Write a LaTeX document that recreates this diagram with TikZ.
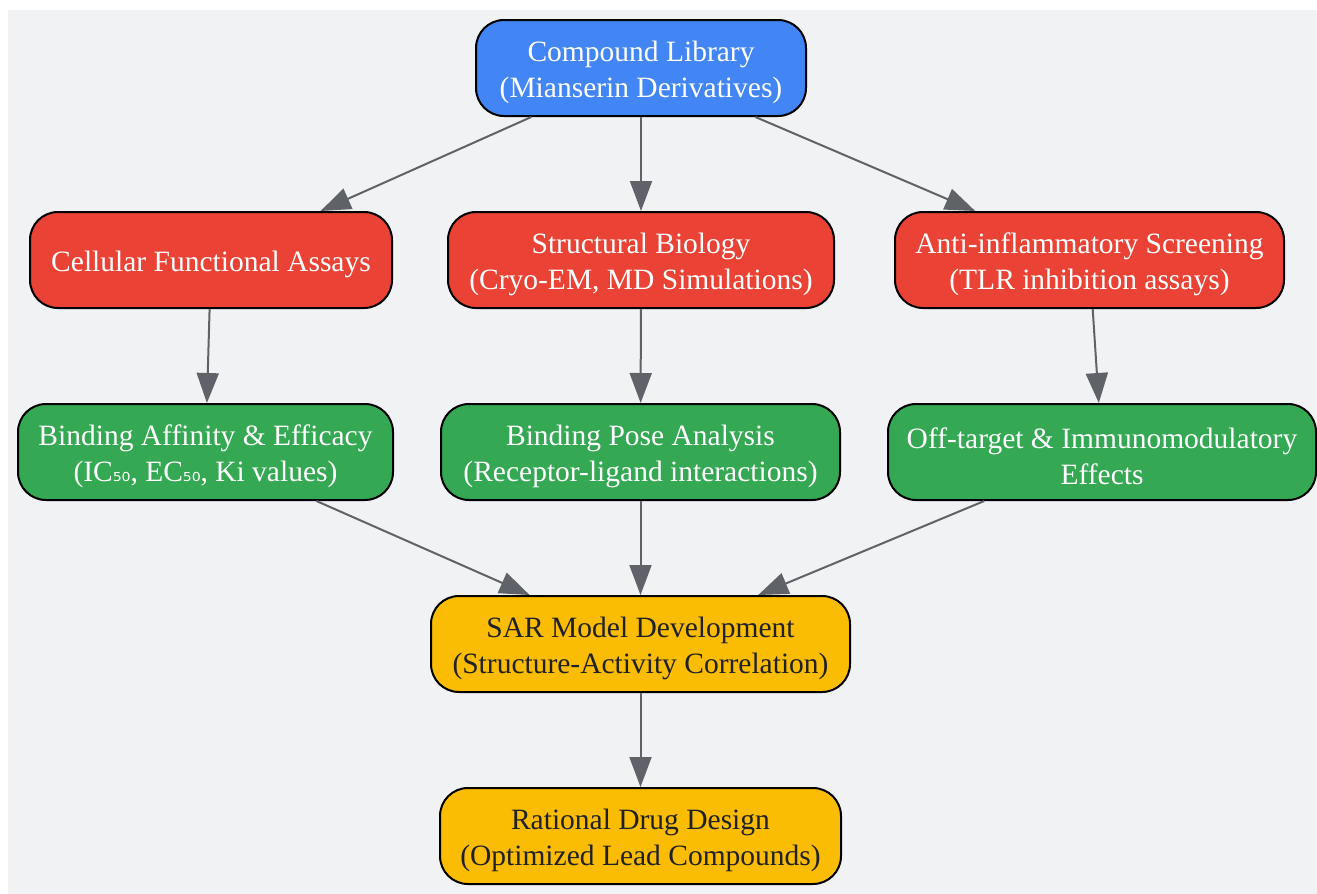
\documentclass[tikz,border=0pt]{standalone}
\usepackage{fontspec}
\setmainfont{Liberation Serif}
\newfontfamily\subfont{DejaVu Sans}
\usetikzlibrary{arrows.meta}
\definecolor{bgc}{HTML}{F1F2F4}
\definecolor{gblue}{HTML}{4285F4}
\definecolor{gred}{HTML}{EA4335}
\definecolor{ggreen}{HTML}{34A853}
\definecolor{gyellow}{HTML}{FBBC04}
\definecolor{edgec}{HTML}{5F6368}
\definecolor{darktext}{HTML}{202124}
\newcommand{\topstrut}{\rule{0pt}{28.5pt}}
\begin{document}
\begin{tikzpicture}[x=1pt,y=-1pt,
  box/.style={draw=black, line width=2pt, rounded corners=28pt, align=center,
    minimum height=96pt, inner sep=0pt,
    font=\fontsize{29.5}{36}\selectfont},
  bluebox/.style={box, fill=gblue, text=white},
  redbox/.style={box, fill=gred, text=white},
  greenbox/.style={box, fill=ggreen, text=white},
  yellowbox/.style={box, fill=gyellow, text=darktext},
  conn/.style={draw=edgec, line width=2pt, -{Triangle[length=30pt,width=22pt]}}
]
\useasboundingbox (0,0) rectangle (1317,894);
\fill[bgc] (8,10) rectangle (1317,894);

\node[bluebox, minimum width=330pt] (lib) at (641,68) {\topstrut Compound Library\\(Mianserin Derivatives)};

\node[redbox, minimum width=362pt] (cell) at (211,260) {\topstrut Cellular Functional Assays};
\node[redbox, minimum width=386pt] (struct) at (641,260) {\topstrut Structural Biology\\(Cryo-EM, MD Simulations)};
\node[redbox, minimum width=389pt] (anti) at (1089.5,260) {\topstrut Anti-inflammatory Screening\\(TLR inhibition assays)};

\node[greenbox, minimum width=375pt] (bind) at (205.5,452) {\topstrut Binding Affinity \& Efficacy\\(IC{\subfont\fontsize{22}{36}\selectfont ₅₀}, EC{\subfont\fontsize{22}{36}\selectfont ₅₀}, Ki values)};
\node[greenbox, minimum width=399pt] (pose) at (640.5,452) {\topstrut Binding Pose Analysis\\(Receptor-ligand interactions)};
\node[greenbox, minimum width=428pt] (off) at (1102,452) {\topstrut Off-target \& Immunomodulatory\\Effects};

\node[yellowbox, minimum width=419pt] (sar) at (640.5,644) {\topstrut SAR Model Development\\(Structure-Activity Correlation)};
\node[yellowbox, minimum width=401pt] (rdd) at (640.5,836) {\topstrut Rational Drug Design\\(Optimized Lead Compounds)};

\draw[conn] (lib) -- (cell);
\draw[conn] (lib) -- (struct);
\draw[conn] (lib) -- (anti);
\draw[conn] (cell) -- (bind);
\draw[conn] (struct) -- (pose);
\draw[conn] (anti) -- (off);
\draw[conn] (bind) -- (sar);
\draw[conn] (pose) -- (sar);
\draw[conn] (off) -- (sar);
\draw[conn] (sar) -- (rdd);
\end{tikzpicture}
\end{document}
